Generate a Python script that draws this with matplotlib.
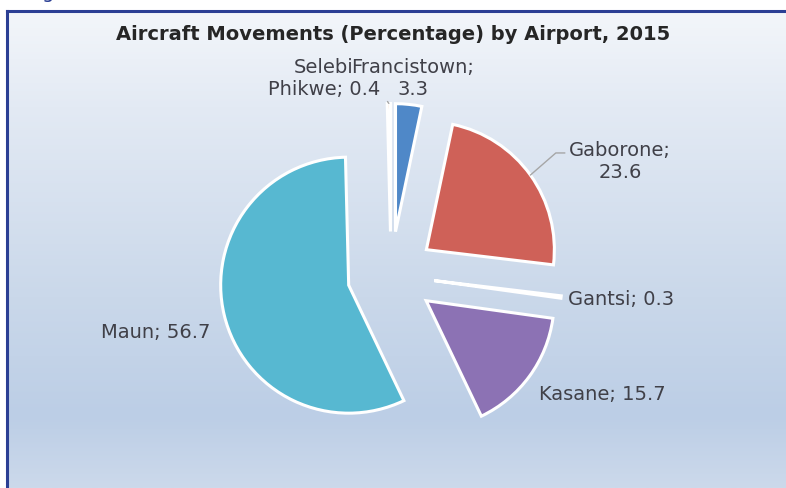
import numpy as np
import matplotlib.pyplot as plt
from matplotlib.colors import LinearSegmentedColormap

# Aircraft movements share (%) by airport, 2015
airports = ['Francistown', 'Gaborone', 'Gantsi', 'Kasane', 'Maun', 'Selebi Phikwe']
shares = [3.3, 23.6, 0.3, 15.7, 56.7, 0.4]
title = 'Aircraft Movements (Percentage) by Airport, 2015'

# styling (Excel office palette, lightened like the reference)
colors = ['#4f88c8', '#cf6158', '#9bbb59', '#8c72b4', '#57b8d1', '#f79646']
text_color = '#404048'
border_color = '#2b3f94'

# label text layout: name/value separator and label anchor (data units, ha)
label_sep = ['\n', '\n', ' ', ' ', ' ', ' ']
label_names = ['Francistown', 'Gaborone', 'Gantsi', 'Kasane', 'Maun', 'Selebi\nPhikwe']
label_pos = [(0.172, 1.539, 'center'), (1.789, 0.883, 'center'), (1.383, -0.195, 'left'),
             (1.648, -0.9375, 'center'), (-1.414, -0.453, 'right'), (-0.523, 1.539, 'center')]

fig = plt.figure(figsize=(7.86, 4.88), dpi=100)

# gradient chart area with dark blue frame (cut off at right/bottom)
bg = fig.add_axes([7 / 786, 0, 1 - 7 / 786, 477 / 488])
cmap = LinearSegmentedColormap.from_list('bg', [(0, '#f3f6fa'), (0.2, '#e3eaf4'), (0.6, '#cad8ea'),
                                                (0.85, '#bccee6'), (1, '#ccd9eb')])
bg.imshow(np.linspace(0, 1, 256).reshape(-1, 1), aspect='auto', cmap=cmap)
bg.set_xticks([])
bg.set_yticks([])
for side in ['right', 'bottom']:
    bg.spines[side].set_visible(False)
for side in ['left', 'top']:
    bg.spines[side].set_color(border_color)
    bg.spines[side].set_linewidth(2.2)

# leftover bit of the document heading above the chart
fig.text(42 / 786, 1 + 1.5 / 488, 'g', color=border_color, fontsize=14, va='baseline')

ax = fig.add_axes([0, 0, 1, 1])
ax.set_facecolor('none')
wedges, _ = ax.pie(shares, explode=[0.34] * len(shares), colors=colors, startangle=90,
                   counterclock=False, wedgeprops=dict(edgecolor='white', linewidth=2.2))
ax.set_xlim(-391 / 128, 395 / 128)
ax.set_ylim(-213 / 128, 275 / 128)
ax.set_aspect('equal')
ax.axis('off')

# data labels, Selebi first so Francistown sits on top of it
order = [5, 0, 1, 2, 3, 4]
for i in order:
    w = wedges[i]
    txt = f'{label_names[i]};{label_sep[i]}{shares[i]}'
    x, y, ha = label_pos[i]
    ang = np.deg2rad((w.theta1 + w.theta2) / 2)
    arc = (w.center[0] + w.r * np.cos(ang), w.center[1] + w.r * np.sin(ang))
    kw = dict(ha=ha, va='center', multialignment='center', fontsize=14, color=text_color)
    if airports[i] == 'Gaborone':
        ax.annotate(txt, xy=arc, xytext=(x, y),
                    arrowprops=dict(arrowstyle='-', color='#a6a6a6', lw=1,
                                    connectionstyle='angle,angleA=0,angleB=41,rad=0',
                                    relpos=(0, 0.72), shrinkA=1, shrinkB=0), **kw)
    elif airports[i] == 'Selebi Phikwe':
        ax.annotate(txt, xy=arc, xytext=(x, y),
                    arrowprops=dict(arrowstyle='-', color='#a6a6a6', lw=1,
                                    relpos=(1, 0.2), shrinkA=6, shrinkB=2), **kw)
    else:
        ax.text(x, y, txt, **kw)

fig.text(0.5, 1 - 34 / 488, title, ha='center', va='center', fontsize=14,
         fontweight='bold', color='#262626')

fig.savefig('out.png', dpi=100)
